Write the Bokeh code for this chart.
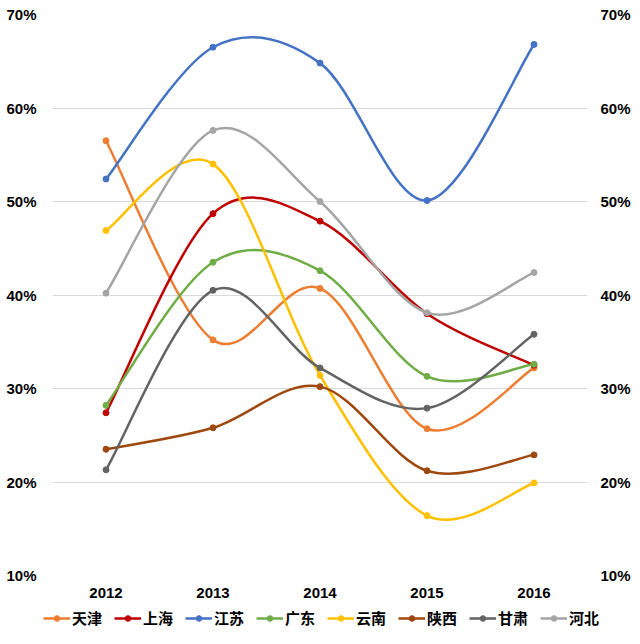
from bokeh.plotting import figure
from bokeh.models import (FixedTicker, NumeralTickFormatter, LinearAxis, Legend, LegendItem, Range1d)
from bokeh.embed import file_html
from bokeh.resources import INLINE

years = ["2012", "2013", "2014", "2015", "2016"]
names = ["天津", "上海", "江苏", "广东", "云南", "陕西", "甘肃", "河北"]
colors = ["#ED7D31", "#C00000", "#4472C4", "#70AD47", "#FFC000", "#9E480E", "#636363", "#A5A5A5"]
tianjin = [0.565, 0.352, 0.407, 0.257, 0.322]
shanghai = [0.274, 0.487, 0.479, 0.380, 0.325]
jiangsu = [0.524, 0.665, 0.648, 0.501, 0.668]
guangdong = [0.282, 0.435, 0.426, 0.313, 0.326]
yunnan = [0.469, 0.540, 0.314, 0.164, 0.199]
shaanxi = [0.235, 0.258, 0.302, 0.212, 0.229]
gansu = [0.213, 0.405, 0.322, 0.279, 0.358]
hebei = [0.402, 0.576, 0.500, 0.381, 0.424]
series = [tianjin, shanghai, jiangsu, guangdong, yunnan, shaanxi, gansu, hebei]
y_ticks = [0.1, 0.2, 0.3, 0.4, 0.5, 0.6, 0.7]

xs = list(range(len(years)))

p = figure(frame_width=535, frame_height=561, output_backend="svg", toolbar_location=None,
           x_range=Range1d(-0.5, 4.5), y_range=Range1d(0.1, 0.7),
           min_border_left=52, min_border_right=53, min_border_top=14, min_border_bottom=30)
p.outline_line_color = None
p.xgrid.grid_line_color = None
p.ygrid.grid_line_color = "#D9D9D9"
p.ygrid.grid_line_width = 1
p.ygrid.ticker = FixedTicker(ticks=y_ticks)

font = "Liberation Sans"

def style_axis(ax):
    ax.axis_line_color = None
    ax.major_tick_line_color = None
    ax.minor_tick_line_color = None
    ax.major_tick_out = 0
    ax.major_tick_in = 0
    ax.minor_tick_out = 0
    ax.minor_tick_in = 0
    ax.major_label_text_font = font
    ax.major_label_text_font_style = "bold"
    ax.major_label_text_font_size = "15px"
    ax.major_label_text_color = "#000000"

p.yaxis.ticker = FixedTicker(ticks=y_ticks)
p.yaxis.formatter = NumeralTickFormatter(format="0%")
p.yaxis.major_label_standoff = 16
style_axis(p.yaxis[0])

ry = LinearAxis(ticker=FixedTicker(ticks=y_ticks), formatter=NumeralTickFormatter(format="0%"))
ry.major_label_standoff = 13
style_axis(ry)
p.add_layout(ry, "right")

p.xaxis.ticker = FixedTicker(ticks=xs)
p.xaxis.major_label_overrides = {i: y for i, y in enumerate(years)}
p.xaxis.major_label_standoff = 12
style_axis(p.xaxis[0])

for col, vals in zip(colors, series):
    n = len(vals)
    x0, y0, x1, y1, cx0, cy0, cx1, cy1 = [], [], [], [], [], [], [], []
    for i in range(n - 1):
        pm = i - 1 if i > 0 else i
        pp = i + 2 if i + 2 < n else i + 1
        x0.append(xs[i]); y0.append(vals[i])
        x1.append(xs[i + 1]); y1.append(vals[i + 1])
        cx0.append(xs[i] + (xs[i + 1] - xs[pm]) / 6.0)
        cy0.append(vals[i] + (vals[i + 1] - vals[pm]) / 6.0)
        cx1.append(xs[i + 1] - (xs[pp] - xs[i]) / 6.0)
        cy1.append(vals[i + 1] - (vals[pp] - vals[i]) / 6.0)
    p.bezier(x0=x0, y0=y0, x1=x1, y1=y1, cx0=cx0, cy0=cy0, cx1=cx1, cy1=cy1,
             line_color=col, line_width=2.5)
    p.scatter(xs, vals, size=6, fill_color=col, line_color=col)

# legend strip below the chart (separate root, so its frame is not aligned to the chart's)
lg = figure(width=640, height=39, output_backend="svg", toolbar_location=None,
            x_range=Range1d(0, 1), y_range=Range1d(0, 1),
            min_border_left=0, min_border_right=0, min_border_top=0, min_border_bottom=0,
            x_axis_location=None, y_axis_location=None)
lg.outline_line_color = None
lg.grid.grid_line_color = None
items = []
for name, col in zip(names, colors):
    lr = lg.line([-5, -4], [-5, -4], line_color=col, line_width=2.5)
    sr = lg.scatter([-5], [-5], size=6, fill_color=col, line_color=col)
    items.append(LegendItem(label=name, renderers=[lr, sr]))
legend = Legend(items=items, orientation="horizontal", location=(43, 16),
                label_text_font="Noto Sans CJK SC", label_text_font_style="bold",
                label_text_font_size="15px", label_text_color="#000000",
                glyph_width=27, glyph_height=14,
                label_standoff=2, spacing=12, padding=2, margin=0,
                label_height=18, border_line_color=None, background_fill_alpha=0)
lg.add_layout(legend, "center")

open("out.html", "w").write(file_html([p, lg], INLINE))
